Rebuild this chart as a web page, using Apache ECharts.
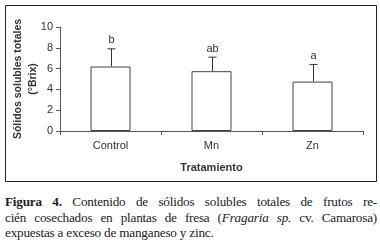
<!DOCTYPE html>
<html lang="es">
<head>
<meta charset="UTF-8">
<title>Figura 4</title>
<script src="https://cdn.jsdelivr.net/npm/echarts@6/dist/echarts.min.js"></script>
<style>
  body { margin: 0; background: #fff; }
  #chart { width: 380px; height: 185px; }
  #caption {
    position: absolute; left: 5px; top: 194px; width: 372px;
    font-family: "Liberation Serif", "Times New Roman", "Noto Serif", serif;
    font-size: 13.2px; line-height: 15.5px; color: #222; letter-spacing: -0.2px;
  }
  #caption div { text-align: justify; text-align-last: justify; white-space: nowrap; }
  #caption div.last { text-align-last: left; }
</style>
</head>
<body>
<div id="chart"></div>
<div id="caption">
  <div><b>Figura 4.</b> Contenido de sólidos solubles totales de frutos re-</div>
  <div>cién cosechados en plantas de fresa (<i>Fragaria sp.</i> cv. Camarosa)</div>
  <div class="last">expuestas a exceso de manganeso y zinc.</div>
</div>
<script>
// datos
var categories = ['Control', 'Mn', 'Zn'];
var means = [6.2, 5.75, 4.75];
var errors = [1.7, 1.35, 1.65];
var letters = ['b', 'ab', 'a'];

var chart = echarts.init(document.getElementById('chart'));

var errData = categories.map(function (c, i) {
  return [i, means[i], means[i] + errors[i], letters[i]];
});

var option = {
  animation: false,
  grid: { left: 60, right: 17, top: 27, bottom: 54 },
  graphic: [{
    type: 'rect',
    shape: { x: 5.5, y: 5.5, width: 371, height: 176 },
    style: { fill: 'none', stroke: '#222', lineWidth: 1 }
  }],
  xAxis: {
    type: 'category',
    data: categories,
    name: 'Tratamiento',
    nameLocation: 'middle',
    nameGap: 31,
    nameTextStyle: { fontFamily: 'Liberation Sans', fontWeight: 'bold', fontSize: 11, color: '#333' },
    axisLine: { lineStyle: { color: '#555' } },
    axisTick: { show: true, length: 4, lineStyle: { color: '#555' } },
    axisLabel: { fontFamily: 'Liberation Sans', fontSize: 11, color: '#333', margin: 9 }
  },
  yAxis: {
    type: 'value',
    min: 0, max: 10, interval: 2,
    name: 'Sólidos solubles totales\n(°Brix)',
    nameLocation: 'middle',
    nameRotate: 90,
    nameGap: 19,
    nameMoveOverlap: false,
    nameTextStyle: { fontFamily: 'Liberation Sans', fontWeight: 'bold', fontSize: 10.5, color: '#333', lineHeight: 15 },
    splitLine: { show: false },
    axisLine: { show: true, lineStyle: { color: '#555' } },
    axisTick: { show: true, length: 4, lineStyle: { color: '#555' } },
    axisLabel: { fontFamily: 'Liberation Sans', fontSize: 11, color: '#333', margin: 7 }
  },
  series: [{
    type: 'bar',
    data: means,
    barWidth: 40,
    itemStyle: { color: '#fff', borderColor: '#444', borderWidth: 1 }
  }, {
    type: 'custom',
    data: errData,
    renderItem: function (params, api) {
      var base = api.coord([api.value(0), api.value(1)]);
      var top = api.coord([api.value(0), api.value(2)]);
      var x = Math.round(base[0]) + 0.5;
      return {
        type: 'group',
        children: [{
          type: 'line',
          shape: { x1: x, y1: base[1], x2: x, y2: top[1] },
          style: { stroke: '#333', lineWidth: 1 }
        }, {
          type: 'line',
          shape: { x1: x - 4, y1: top[1], x2: x + 4, y2: top[1] },
          style: { stroke: '#333', lineWidth: 1 }
        }, {
          type: 'text',
          style: {
            text: api.value(3),
            x: x, y: top[1] - 3,
            align: 'center', verticalAlign: 'bottom',
            font: '11px "Liberation Sans"', fill: '#333'
          }
        }]
      };
    }
  }]
};

chart.setOption(option);
</script>
</body>
</html>
